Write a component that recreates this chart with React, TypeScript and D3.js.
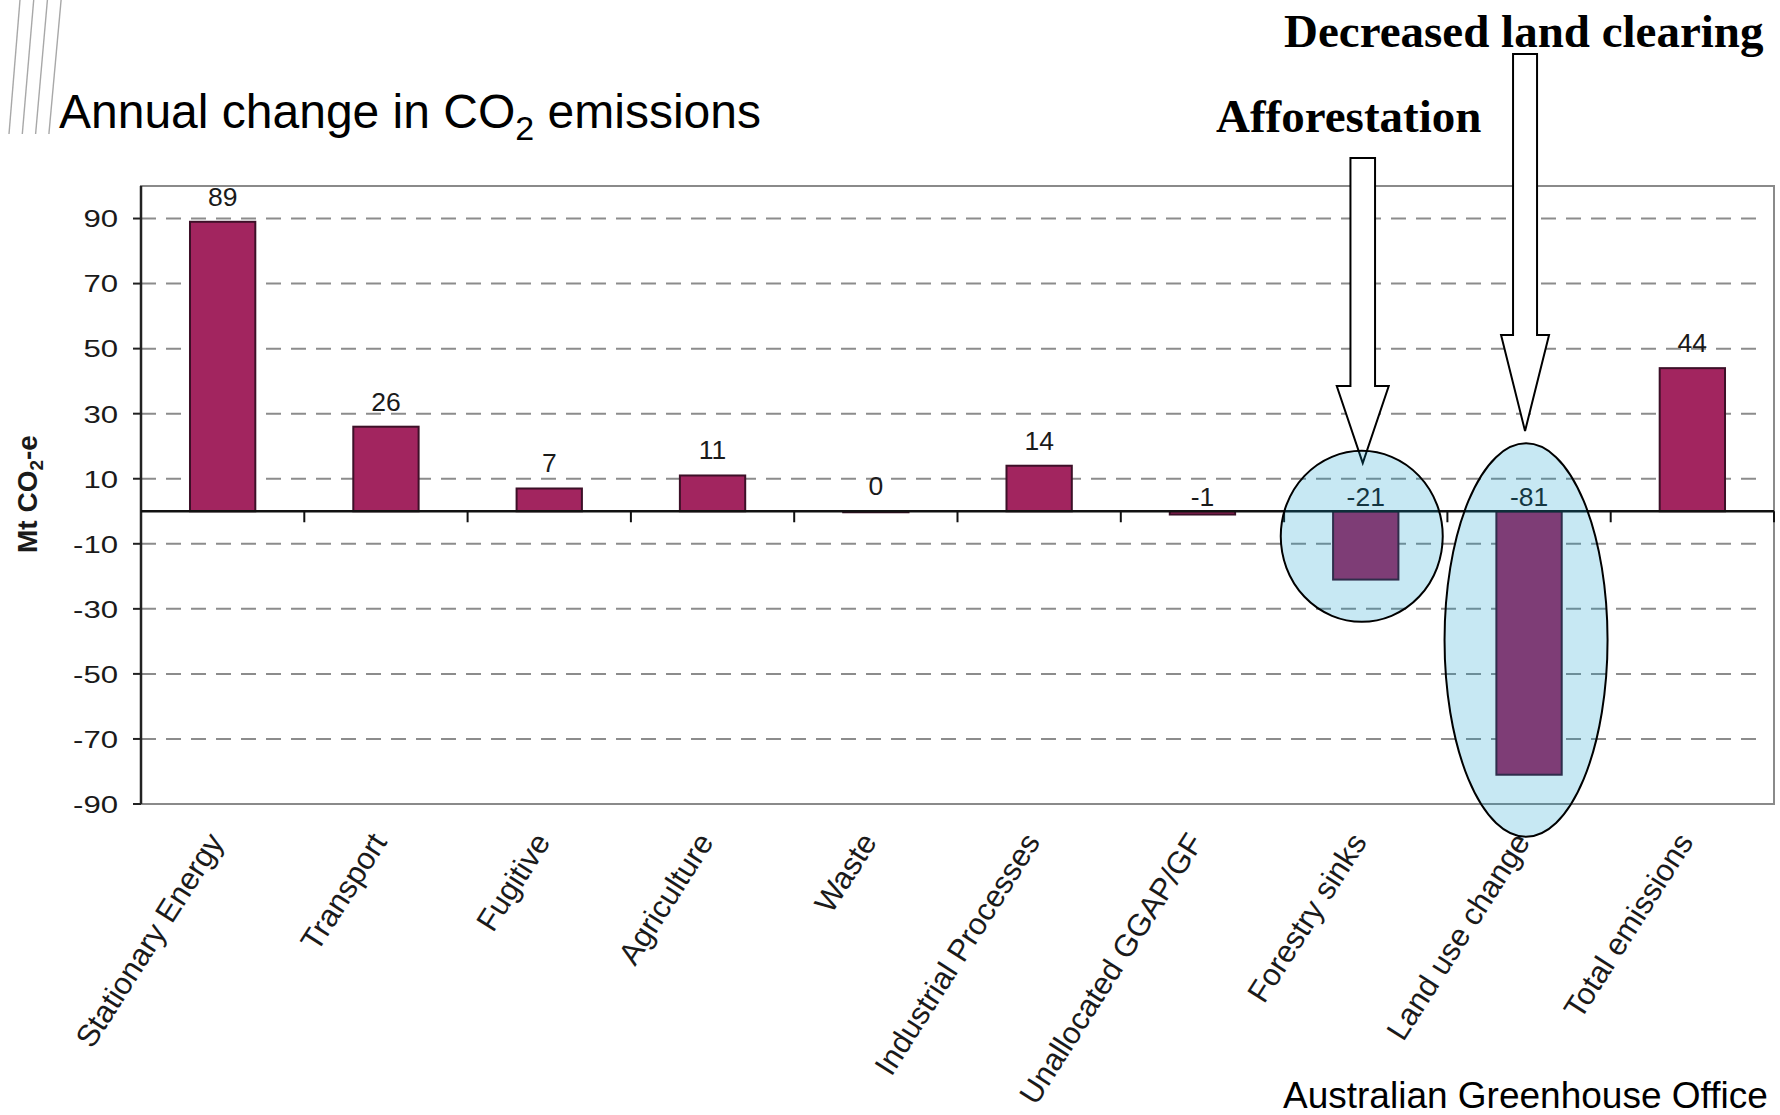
import React from 'react';
import * as d3 from 'd3';

// ---------- data ----------
const categories = [
  'Stationary Energy',
  'Transport',
  'Fugitive',
  'Agriculture',
  'Waste',
  'Industrial Processes',
  'Unallocated GGAP/GF',
  'Forestry sinks',
  'Land use change',
  'Total emissions',
];
const values = [89, 26, 7, 11, 0, 14, -1, -21, -81, 44];
const yTicks = [90, 70, 50, 30, 10, -10, -30, -50, -70, -90];
const yDomain = [-90, 100];

const titleMain = 'Annual change in CO';
const titleSub = '2';
const titleEnd = ' emissions';
const annotation1 = 'Decreased land clearing';
const annotation2 = 'Afforestation';
const sourceText = 'Australian Greenhouse Office';

// ---------- layout ----------
const W = 1780;
const H = 1115;
const plot = { left: 141, right: 1774, top: 186, bottom: 804 };
const SANS = "'Liberation Sans', Arial, Helvetica, sans-serif";
const SERIF = "'Liberation Serif', 'Times New Roman', serif";
const BAR_FILL = '#A2255F';
const BAR_STROKE = '#3d1028';

export default function App() {
  React.useEffect(() => {
    document.body.style.margin = '0';
  }, []);

  const x = d3
    .scaleBand<string>()
    .domain(categories)
    .range([plot.left, plot.right])
    .paddingInner(0.6)
    .paddingOuter(0.3);
  const y = d3.scaleLinear().domain(yDomain).range([plot.bottom, plot.top]);
  const step = x.step();
  const cx = (c: string) => (x(c) as number) + x.bandwidth() / 2;
  const y0 = y(0);

  const boundaries = d3.range(1, categories.length + 1).map((k) => plot.left + step * k);

  // annotation geometry (relative to scales)
  const cForest = cx('Forestry sinks');
  const cLand = cx('Land use change');

  const arrowPath = (c: number, shaftTop: number, headTop: number, tip: number, sw: number, hw: number) =>
    `M${c - sw},${shaftTop} L${c + sw},${shaftTop} L${c + sw},${headTop} L${c + hw},${headTop} L${c},${tip} L${c - hw},${headTop} L${c - sw},${headTop} Z`;

  return (
    <svg
      width={W}
      height={H}
      viewBox={`0 0 ${W} ${H}`}
      style={{ display: 'block', position: 'absolute', left: 0, top: 0, background: '#fff' }}
    >
      <rect x={0} y={0} width={W} height={H} fill="#fff" />

      {/* decorative slide lines */}
      {[0, 1, 2, 3].map((i) => (
        <line
          key={i}
          x1={20 + i * 13.7}
          y1={0}
          x2={9 + i * 13.3}
          y2={134}
          stroke="#a8a8a8"
          strokeWidth={1.4}
        />
      ))}

      {/* title */}
      <text x={59} y={128} fontFamily={SANS} fontSize={48} fill="#000">
        {titleMain}
        <tspan fontSize={34} dy={12}>
          {titleSub}
        </tspan>
        <tspan dy={-12}>{titleEnd}</tspan>
      </text>

      {/* gridlines */}
      {yTicks.map((t) => (
        <line
          key={'g' + t}
          x1={plot.left}
          x2={plot.right - 8}
          y1={y(t)}
          y2={y(t)}
          stroke="#8c8c8c"
          strokeWidth={2}
          strokeDasharray="15 10"
        />
      ))}

      {/* plot border */}
      <rect
        x={plot.left}
        y={plot.top}
        width={plot.right - plot.left}
        height={plot.bottom - plot.top}
        fill="none"
        stroke="#8a8a8a"
        strokeWidth={2}
      />

      {/* bars */}
      {categories.map((c, i) => {
        const v = values[i];
        const top = v >= 0 ? y(v) : y0;
        const h = Math.abs(y(v) - y0);
        return (
          <rect
            key={'b' + c}
            x={x(c)}
            y={top}
            width={x.bandwidth()}
            height={Math.max(h, 1)}
            fill={BAR_FILL}
            stroke={BAR_STROKE}
            strokeWidth={2}
          />
        );
      })}

      {/* y axis */}
      <line x1={plot.left} x2={plot.left} y1={plot.top} y2={plot.bottom} stroke="#222" strokeWidth={2.5} />
      {yTicks.map((t) => (
        <g key={'t' + t}>
          <line x1={plot.left - 8} x2={plot.left} y1={y(t)} y2={y(t)} stroke="#222" strokeWidth={2} />
          <g transform={`translate(${plot.left - 23},${y(t)})`}>
            <text
              transform="scale(1.27,1)"
              textAnchor="end"
              dy="0.36em"
              fontFamily={SANS}
              fontSize={24.5}
              fill="#1a1a1a"
            >
              {t}
            </text>
          </g>
        </g>
      ))}

      {/* zero line and category ticks */}
      <line x1={plot.left} x2={plot.right} y1={y0} y2={y0} stroke="#111" strokeWidth={2.5} />
      {boundaries.map((bx, i) => (
        <line key={'xt' + i} x1={bx} x2={bx} y1={y0} y2={y0 + 11} stroke="#111" strokeWidth={2} />
      ))}

      {/* data labels */}
      {categories.map((c, i) => {
        const v = values[i];
        const ly = v >= 0 ? y(v) - 16 : y0 - 5;
        return (
          <text
            key={'l' + c}
            x={cx(c)}
            y={ly}
            textAnchor="middle"
            fontFamily={SANS}
            fontSize={26.5}
            fill="#1a1a1a"
          >
            {v}
          </text>
        );
      })}

      {/* x labels */}
      {categories.map((c) => (
        <text
          key={'x' + c}
          transform={`translate(${cx(c) + 2},${plot.bottom + 38}) rotate(-57.5)`}
          textAnchor="end"
          fontFamily={SANS}
          fontSize={31}
          fill="#1a1a1a"
        >
          {c}
        </text>
      ))}

      {/* y axis title */}
      <text
        transform={`translate(37,${(plot.top + plot.bottom) / 2 - 1}) rotate(-90)`}
        textAnchor="middle"
        fontFamily={SANS}
        fontSize={28}
        fontWeight="bold"
        fill="#1a1a1a"
      >
        Mt CO
        <tspan fontSize={19} dy={6}>
          2
        </tspan>
        <tspan dy={-6}>-e</tspan>
      </text>

      {/* arrows */}
      <path
        d={arrowPath(cForest - 3, 158, 386, 463, 12.3, 26)}
        fill="#fff"
        stroke="#000"
        strokeWidth={2}
        strokeLinejoin="miter"
      />
      <path
        d={arrowPath(cLand - 4, 54, 335, 431, 12, 24)}
        fill="#fff"
        stroke="#000"
        strokeWidth={2}
        strokeLinejoin="miter"
      />

      {/* highlight ellipses */}
      <ellipse
        cx={cForest - 4}
        cy={y(-7.7)}
        rx={81}
        ry={85.5}
        fill="rgb(0,150,200)"
        fillOpacity={0.22}
        stroke="#000"
        strokeWidth={2}
      />
      <ellipse
        cx={cLand - 3}
        cy={y(-39.6)}
        rx={81.5}
        ry={196.7}
        fill="rgb(0,150,200)"
        fillOpacity={0.22}
        stroke="#000"
        strokeWidth={2}
      />

      {/* annotations */}
      <text x={1284} y={47} fontFamily={SERIF} fontWeight="bold" fontSize={47} fill="#000">
        {annotation1}
      </text>
      <text x={1216} y={132} fontFamily={SERIF} fontWeight="bold" fontSize={47} fill="#000">
        {annotation2}
      </text>

      {/* source */}
      <text x={1283} y={1108} fontFamily={SANS} fontSize={37} fill="#000">
        {sourceText}
      </text>
    </svg>
  );
}
